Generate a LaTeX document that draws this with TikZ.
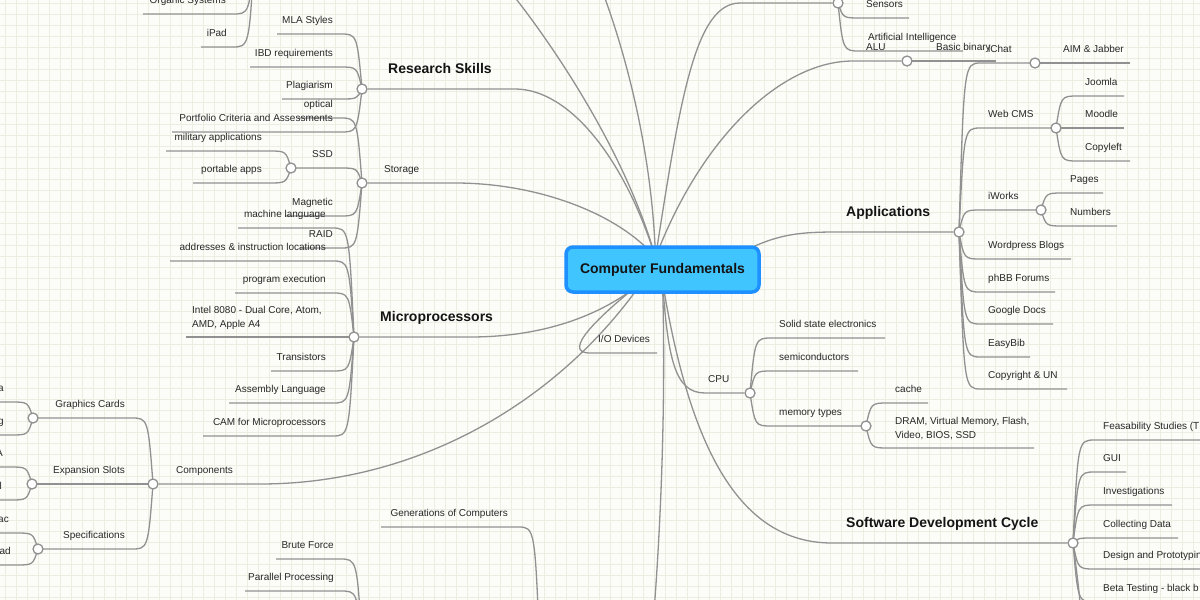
\documentclass[tikz,border=0pt]{standalone}
\usepackage{fontspec}
\setmainfont{Liberation Sans}
\usetikzlibrary{calc}
\definecolor{bgc}{RGB}{252,252,249}
\definecolor{gridc}{RGB}{236,238,226}
\definecolor{linec}{RGB}{145,145,145}
\definecolor{txtc}{RGB}{40,40,40}
\definecolor{rootfill}{RGB}{64,197,255}
\definecolor{rootdraw}{RGB}{30,144,255}
\pgfdeclarelayer{back}\pgfdeclarelayer{edges}\pgfsetlayers{back,edges,main}
\tikzset{
 conn/.style={draw=linec, line width=1.3pt},
 hub/.style={circle, draw=linec, fill=white, line width=1.3pt, minimum size=10pt, inner sep=0pt},
 lbl/.style={font=\fontsize{10}{14}\selectfont, text=txtc, inner sep=0pt},
 blbl/.style={font=\bfseries\fontsize{14}{16}\selectfont, text=black!92, inner sep=0pt},
 rootbox/.style={rounded corners=7pt, fill=rootfill, draw=rootdraw, line width=3.5pt, minimum width=193pt, minimum height=45pt, font=\bfseries\fontsize{14}{16}\selectfont, text=black!92},
}
% right-hand child: name, hub, text x, line end x, line y, text
\newcommand\RL[6]{%
 \coordinate (#1-e) at (#4,#5);
 \node[lbl, anchor=base west] (#1) at (#3,#5-10.5) {#6};
 \begin{pgfonlayer}{edges}
 \draw[conn] (#2.center) .. controls ($(#2.center |- #1-e)+(5,0)$) .. ($(#2.center |- #1-e)+(22,0)$) -- (#1-e);
 \end{pgfonlayer}}
% left-hand child: name, hub, line start x, text right x, line y, text
\newcommand\LL[6]{%
 \coordinate (#1-e) at (#3,#5);
 \node[lbl, anchor=base east] (#1) at (#4,#5-10.5) {#6};
 \begin{pgfonlayer}{edges}
 \draw[conn] (#2.center) .. controls ($(#2.center |- #1-e)+(-5,0)$) .. ($(#2.center |- #1-e)+(-22,0)$) -- (#1-e);
 \end{pgfonlayer}}
\begin{document}
\begin{tikzpicture}[x=1pt,y=-1pt]
\useasboundingbox (0,0) rectangle (1200,600);
\begin{pgfonlayer}{back}
\fill[bgc] (0,0) rectangle (1200,600);
\foreach \i in {5,16,...,1199} \draw[gridc, line width=0.6pt] (\i,0) -- (\i,600);
\foreach \j in {3,14,...,599} \draw[gridc, line width=0.6pt] (0,\j) -- (1200,\j);
\end{pgfonlayer}

% root
\node[rootbox] (root) at (662.5,269.5) {Computer Fundamentals};
\coordinate (rtop) at ($(root.center)+(-7,-12)$);
\coordinate (rtr) at ($(root.center)+(70,-12)$);
\coordinate (rbot) at ($(root.center)+(0,12)$);
\coordinate (rbl) at ($(root.center)+(-20,12)$);

% hubs
\node[hub] (rs) at (362,89) {};
\node[hub] (st) at (362,183) {};
\node[hub] (ssd) at (291,168) {};
\node[hub] (mp) at (354,337) {};
\node[hub] (comp) at (153,484) {};
\node[hub] (gc) at (33,418) {};
\node[hub] (es) at (32,484) {};
\node[hub] (spec) at (38,549) {};
\node[hub] (sens) at (838,3) {};
\node[hub] (alu) at (907,61) {};
\node[hub] (app) at (959,232) {};
\node[hub] (ichat) at (1035,63) {};
\node[hub] (wcms) at (1056,128) {};
\node[hub] (iw) at (1041,210) {};
\node[hub] (cpu) at (750,393) {};
\node[hub] (mem) at (866,426) {};
\node[hub] (sdc) at (1073,543) {};
\coordinate (hubO) at (254,-40);
\coordinate (hubG) at (540,660);
\coordinate (hubB) at (362,645);
\coordinate (topA) at (505,-15);
\coordinate (topB) at (600,-15);
\coordinate (downA) at (654,612);
\coordinate (sdcD) at (1081,615);

% main branch labels
\node[blbl, anchor=base west] (rslab) at (388,73.5) {Research Skills};
\node[lbl, anchor=base west] (stlab) at (384,172.5) {Storage};
\node[blbl, anchor=base west] (mplab) at (380,321.5) {Microprocessors};
\node[lbl, anchor=base west] (complab) at (176,473.5) {Components};
\node[blbl, anchor=base west] (applab) at (846,216.5) {Applications};
\node[lbl, anchor=base west] (cpulab) at (708,382.5) {CPU};
\node[blbl, anchor=base west] (sdclab) at (846,527.5) {Software Development Cycle};
\node[lbl, anchor=base west] (alulab) at (866,50.5) {ALU};
\node[lbl, anchor=base west] (iolab) at (598,342.5) {I/O Devices};

\coordinate (rs-s) at (515,89);
\coordinate (st-s) at (455,183);
\coordinate (sens-s) at (740,3);
\coordinate (alu-s) at (853,61);
\coordinate (app-s) at (840,232);
\coordinate (mp-s) at (470,337);
\coordinate (comp-s) at (260,484);
\coordinate (io-s) at (590,353);
\coordinate (io-e) at (657,353);
\coordinate (cpu-s) at (705,393);
\coordinate (sdc-s) at (832,543);

\begin{pgfonlayer}{edges}
\draw[conn] (rtop) .. controls (625,150) and (550,40) .. (topA);
\draw[conn] (rtop) .. controls (652,150) and (625,50) .. (topB);
\draw[conn] (rtop) .. controls (625,160) and (570,89) .. (rs-s) -- (rs);
\draw[conn] (rtop) .. controls (620,215) and (540,183) .. (st-s) -- (st);
\draw[conn] (rtop) .. controls (680,100) and (695,3) .. (sens-s) -- (sens);
\draw[conn] (rtop) .. controls (700,140) and (780,61) .. (alu-s) -- (alu);
\draw[conn] (rtr) .. controls (775,233) and (800,232) .. (app-s) -- (app);
\draw[conn] (rbl) .. controls (615,305) and (560,337) .. (mp-s) -- (mp);
\draw[conn] (rbl) .. controls (560,400) and (420,484) .. (comp-s) -- (comp);
\draw[conn] (rbl) .. controls (600,315) and (560,353) .. (io-s) -- (io-e);
\draw[conn] (rbot) .. controls (666,400) and (661,520) .. (downA);
\draw[conn] (rbot) .. controls (668,360) and (675,393) .. (cpu-s) -- (cpu);
\draw[conn] (rbot) .. controls (690,450) and (740,543) .. (sdc-s) -- (sdc);
\draw[conn] (sdc.center) .. controls (1079,590) .. (sdcD);
\end{pgfonlayer}

% Research Skills
\LL{mla}{rs}{277}{333}{34}{MLA Styles}
\LL{ibd}{rs}{250}{333}{67}{IBD requirements}
\LL{plag}{rs}{282}{333}{99}{Plagiarism}
\LL{port}{rs}{172}{333}{132}{Portfolio Criteria and Assessments}
% Storage
\LL{opt}{st}{298}{333}{118}{optical}
\LL{ssdl}{st}{291}{333}{168}{SSD}
\LL{mag}{st}{285}{333}{216}{Magnetic}
\LL{raid}{st}{300}{333}{248}{RAID}
\LL{mil}{ssd}{166}{262}{151}{military applications}
\LL{papps}{ssd}{193}{262}{183}{portable apps}
% Microprocessors
\LL{ml}{mp}{238}{326}{228}{machine language}
\LL{addr}{mp}{170}{326}{261}{addresses \& instruction locations}
\LL{pe}{mp}{235}{326}{293}{program execution}
\coordinate (intel-e) at (186,337);
\node[lbl, align=left, anchor=north west] (intel) at (192,306.5) {Intel 8080 - Dual Core, Atom,\\AMD, Apple A4};
\begin{pgfonlayer}{edges}\draw[conn] (mp.center) -- (intel-e);\end{pgfonlayer}
\LL{tr}{mp}{271}{326}{371}{Transistors}
\LL{asm}{mp}{229}{326}{403}{Assembly Language}
\LL{cam}{mp}{203}{326}{436}{CAM for Microprocessors}
% Components
\LL{gcl}{comp}{33}{125}{418}{Graphics Cards}
\LL{esl}{comp}{32}{125}{484}{Expansion Slots}
\LL{spl}{comp}{38}{125}{549}{Specifications}
\LL{gca}{gc}{-5}{4}{402}{a}
\LL{gcg}{gc}{-5}{4}{435}{g}
\LL{esa}{es}{-5}{3}{467}{A}
\LL{esl2}{es}{-5}{2}{500}{l}
\LL{spa}{spec}{-5}{9}{533}{ac}
\LL{spd}{spec}{-5}{11}{565}{ad}
% top left (off-canvas hub)
\LL{org}{hubO}{143}{226}{14}{Organic Systems}
\LL{ipad}{hubO}{201}{227}{47}{iPad}
% bottom (off-canvas hubs)
\LL{gen}{hubG}{381}{508}{527}{Generations of Computers}
\LL{bf}{hubB}{276}{334}{559}{Brute Force}
\LL{pp}{hubB}{245}{334}{591}{Parallel Processing}
% Sensors hub
\RL{sensl}{sens}{866}{909}{18}{Sensors}
\RL{ai}{sens}{868}{963}{51}{Artificial Intelligence}
% ALU
\RL{bb}{alu}{936}{996}{61}{Basic binary}
% Applications
\RL{ichl}{app}{988}{1035}{63}{iChat}
\RL{wcl}{app}{988}{1056}{128}{Web CMS}
\RL{iwl}{app}{988}{1041}{210}{iWorks}
\RL{wp}{app}{988}{1071}{259}{Wordpress Blogs}
\RL{phbb}{app}{988}{1055}{292}{phBB Forums}
\RL{gd}{app}{988}{1053}{324}{Google Docs}
\RL{eb}{app}{988}{1030}{357}{EasyBib}
\RL{cr}{app}{988}{1067}{389}{Copyright \& UN}
\RL{aim}{ichat}{1063}{1130}{63}{AIM \& Jabber}
\RL{joom}{wcms}{1085}{1124}{96}{Joomla}
\RL{mood}{wcms}{1085}{1124}{128}{Moodle}
\RL{copy}{wcms}{1085}{1130}{161}{Copyleft}
\RL{pages}{iw}{1070}{1103}{193}{Pages}
\RL{numb}{iw}{1070}{1117}{226}{Numbers}
% CPU
\RL{sse}{cpu}{779}{885}{338}{Solid state electronics}
\RL{semi}{cpu}{779}{858}{371}{semiconductors}
\RL{mtl}{cpu}{779}{866}{426}{memory types}
\RL{cache}{mem}{895}{928}{403}{cache}
\coordinate (dram-e) at (1034,448);
\node[lbl, align=left, anchor=north west] (dram) at (895,417) {DRAM, Virtual Memory, Flash,\\Video, BIOS, SSD};
\begin{pgfonlayer}{edges}
\draw[conn] (mem.center) .. controls ($(mem.center |- dram-e)+(5,0)$) .. ($(mem.center |- dram-e)+(22,0)$) -- (dram-e);
\end{pgfonlayer}
% Software Development Cycle
\RL{feas}{sdc}{1103}{1215}{440}{Feasability Studies (TI}
\RL{gui}{sdc}{1103}{1126}{472}{GUI}
\RL{inv}{sdc}{1103}{1172}{505}{Investigations}
\RL{cd}{sdc}{1103}{1178}{538}{Collecting Data}
\RL{dp}{sdc}{1103}{1215}{569}{Design and Prototypin}
\RL{beta}{sdc}{1103}{1215}{602}{Beta Testing - black b}
\end{tikzpicture}
\end{document}
